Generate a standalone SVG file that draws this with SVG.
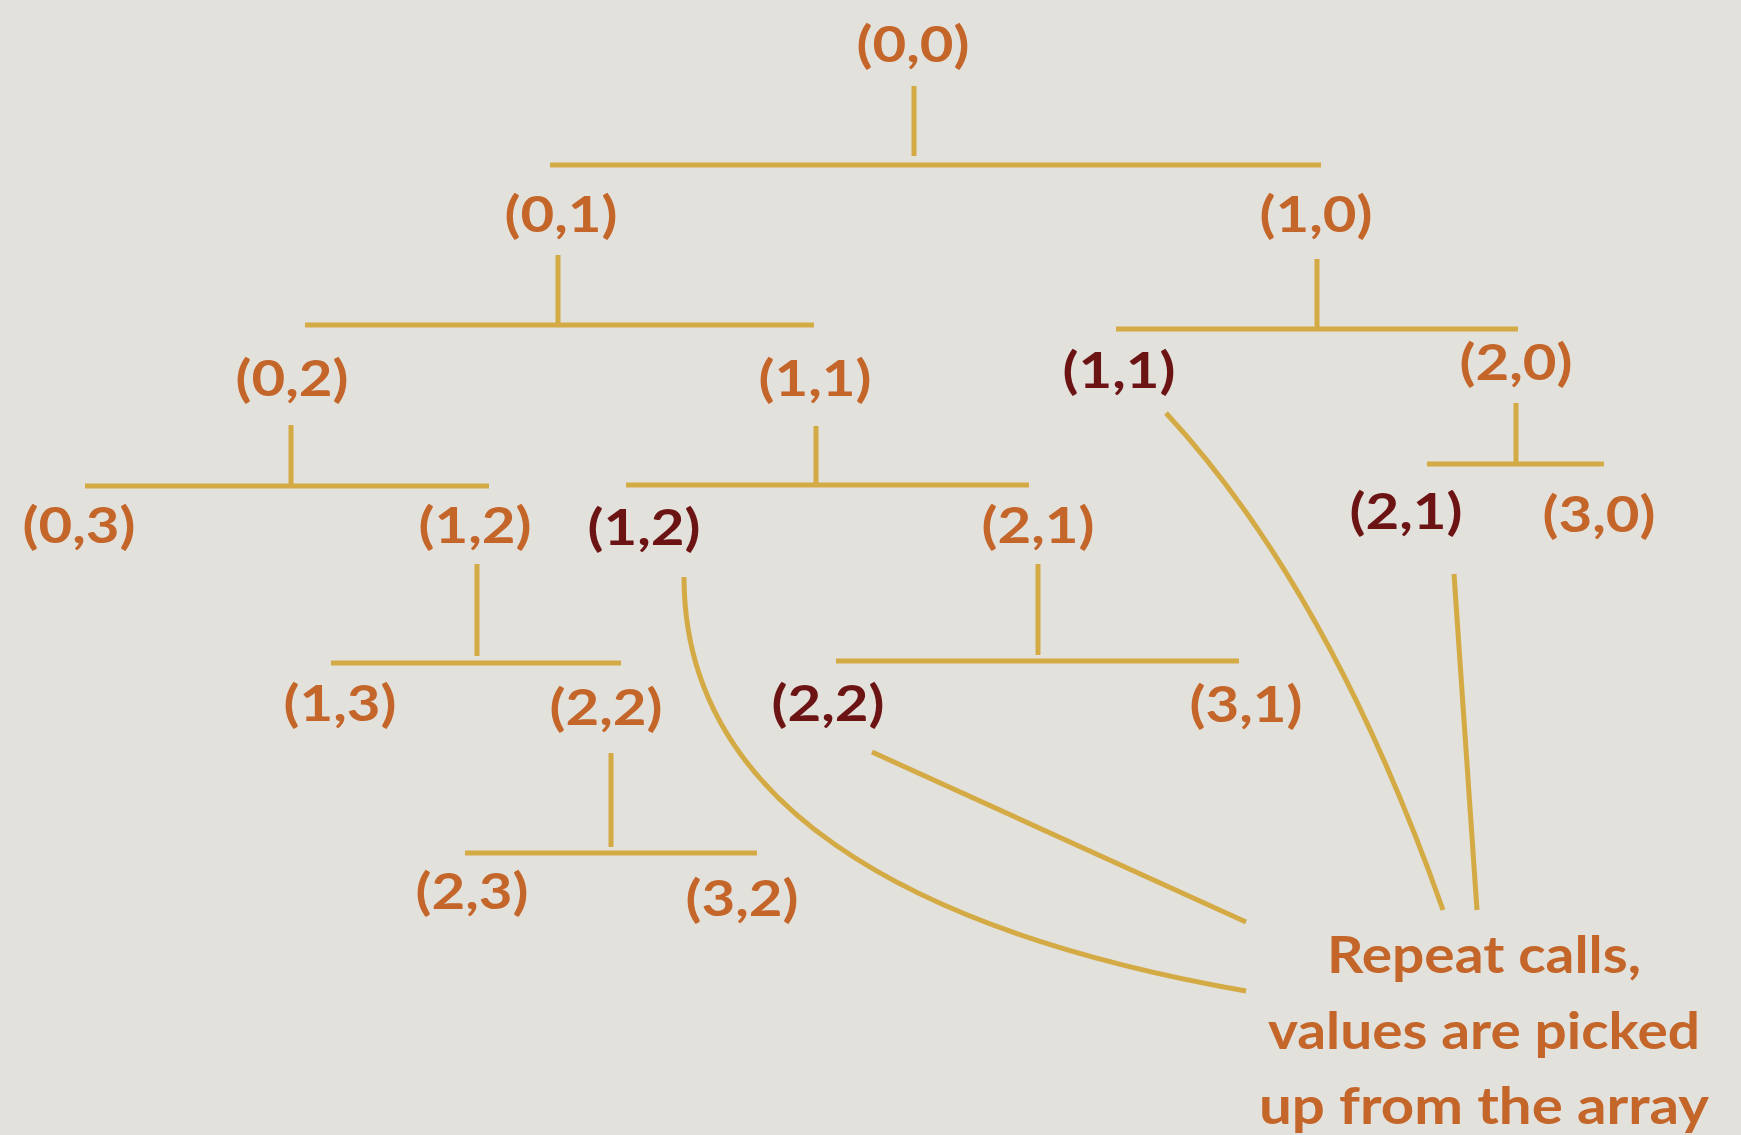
<svg xmlns="http://www.w3.org/2000/svg" width="1741" height="1135" viewBox="0 0 1741 1135">
<style>
.n{font-family:Lato,"Open Sans","Liberation Sans",sans-serif;font-weight:bold;font-size:50px;text-anchor:middle}
.o{fill:#c4652a}
.d{fill:#6c1313}
.c{stroke:#d4aa44;stroke-width:5;fill:none}
.note{font-family:Lato,"Open Sans","Liberation Sans",sans-serif;font-weight:bold;font-size:52px;text-anchor:middle;fill:#c4652a}
</style>
<rect width="1741" height="1135" fill="#e2e1dc"/>
<g id="connectors">
<path class="c" d="M914 86V156M550 165H1321"/>
<path class="c" d="M558 255V324M305 325H814"/>
<path class="c" d="M1317 259V329M1116 329H1518"/>
<path class="c" d="M291 425V485M85 486H489"/>
<path class="c" d="M816 426V484M626 485H1029"/>
<path class="c" d="M1516 403V463M1427 464H1604"/>
<path class="c" d="M477 564V656M331 663H621"/>
<path class="c" d="M1038 564V655M836 661H1239"/>
<path class="c" d="M611 753V847M465 853H757"/>
<path class="c" d="M684 577C684 800 900 930 1246 991"/>
<path class="c" d="M872 752L1246 922"/>
<path class="c" d="M1166 413Q1330 590 1443 910"/>
<path class="c" d="M1454 574L1477 910"/>
</g>
<g id="n00"><text class="n o" x="913" y="62" textLength="113" lengthAdjust="spacingAndGlyphs">(0,0)</text></g>
<g id="n01"><text class="n o" x="561" y="232" textLength="113" lengthAdjust="spacingAndGlyphs">(0,1)</text></g>
<g id="n10"><text class="n o" x="1316" y="232" textLength="113" lengthAdjust="spacingAndGlyphs">(1,0)</text></g>
<g id="n02"><text class="n o" x="292" y="396" textLength="113" lengthAdjust="spacingAndGlyphs">(0,2)</text></g>
<g id="n11"><text class="n o" x="815" y="396" textLength="113" lengthAdjust="spacingAndGlyphs">(1,1)</text></g>
<g id="n11r"><text class="n d" x="1119" y="388" textLength="113" lengthAdjust="spacingAndGlyphs">(1,1)</text></g>
<g id="n20"><text class="n o" x="1516" y="380" textLength="113" lengthAdjust="spacingAndGlyphs">(2,0)</text></g>
<g id="n03"><text class="n o" x="79" y="543" textLength="113" lengthAdjust="spacingAndGlyphs">(0,3)</text></g>
<g id="n12"><text class="n o" x="475" y="543" textLength="113" lengthAdjust="spacingAndGlyphs">(1,2)</text></g>
<g id="n12r"><text class="n d" x="644" y="545" textLength="113" lengthAdjust="spacingAndGlyphs">(1,2)</text></g>
<g id="n21"><text class="n o" x="1038" y="543" textLength="113" lengthAdjust="spacingAndGlyphs">(2,1)</text></g>
<g id="n21r"><text class="n d" x="1406" y="529" textLength="113" lengthAdjust="spacingAndGlyphs">(2,1)</text></g>
<g id="n30"><text class="n o" x="1599" y="532" textLength="113" lengthAdjust="spacingAndGlyphs">(3,0)</text></g>
<g id="n13"><text class="n o" x="340" y="721" textLength="113" lengthAdjust="spacingAndGlyphs">(1,3)</text></g>
<g id="n22"><text class="n o" x="606" y="725" textLength="113" lengthAdjust="spacingAndGlyphs">(2,2)</text></g>
<g id="n22r"><text class="n d" x="828" y="721" textLength="113" lengthAdjust="spacingAndGlyphs">(2,2)</text></g>
<g id="n31"><text class="n o" x="1246" y="722" textLength="113" lengthAdjust="spacingAndGlyphs">(3,1)</text></g>
<g id="n23"><text class="n o" x="472" y="909" textLength="113" lengthAdjust="spacingAndGlyphs">(2,3)</text></g>
<g id="n32"><text class="n o" x="742" y="916" textLength="113" lengthAdjust="spacingAndGlyphs">(3,2)</text></g>
<g id="note">
<text class="note" x="1484" y="973" textLength="314" lengthAdjust="spacingAndGlyphs">Repeat calls,</text>
<text class="note" x="1484" y="1049" textLength="432" lengthAdjust="spacingAndGlyphs">values are picked</text>
<text class="note" x="1484" y="1124" textLength="450" lengthAdjust="spacingAndGlyphs">up from the array</text>
</g>
</svg>
